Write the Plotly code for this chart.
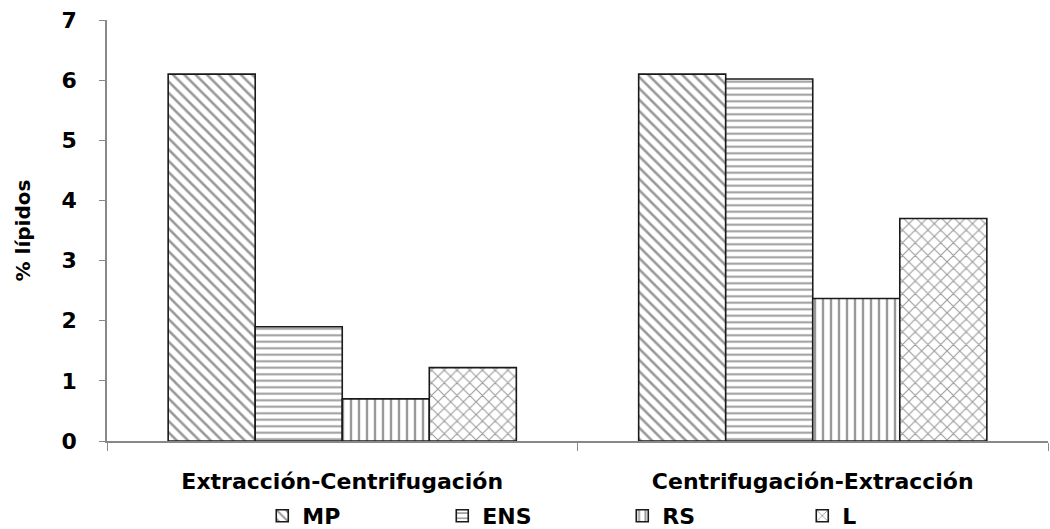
import plotly.graph_objects as go

# Lipid content per fraction for each processing order
categories = ["Extracción-Centrifugación", "Centrifugación-Extracción"]
series_names = ["MP", "ENS", "RS", "L"]
mp_values = [6.1, 6.1]
ens_values = [1.9, 6.02]
rs_values = [0.7, 2.37]
l_values = [1.22, 3.7]
y_ticks = [0, 1, 2, 3, 4, 5, 6, 7]

series_values = [mp_values, ens_values, rs_values, l_values]
patterns = ["\\", "-", "|", "x"]
pattern_sizes = [8, 6.5, 8, 9]
pattern_solidity = [0.32, 0.3, 0.3, 0.22]

font_family = "DejaVu Sans, Verdana, sans-serif"

fig = go.Figure()
for name, vals, shp, sz, sol in zip(series_names, series_values, patterns,
                                     pattern_sizes, pattern_solidity):
    fig.add_trace(go.Bar(
        name=name,
        x=categories,
        y=vals,
        marker=dict(
            color="white",
            line=dict(color="#1a1a1a", width=1.6),
            pattern=dict(shape=shp, fgcolor="#333333", bgcolor="white",
                         size=sz, solidity=sol, fillmode="overlay"),
        ),
    ))

fig.update_layout(
    width=1050, height=529,
    barmode="group",
    bargap=0.26,
    bargroupgap=0,
    plot_bgcolor="white",
    paper_bgcolor="white",
    margin=dict(l=107, r=2, t=20, b=88, autoexpand=False),
    font=dict(family=font_family, size=20, color="black"),
    showlegend=True,
    legend=dict(
        orientation="h",
        xref="paper", x=0.165, xanchor="left",
        yref="paper", y=-0.128, yanchor="top",
        entrywidth=135,
        itemwidth=30,
        font=dict(family=font_family, size=22, color="black", weight="bold"),
    ),
    xaxis=dict(
        showline=True, linecolor="#888888", linewidth=1.5,
        ticks="outside", tickson="boundaries", ticklen=8, tickcolor="#888888",
        tickfont=dict(family=font_family, size=22, weight="bold"),
        ticklabelstandoff=20,
        showgrid=False, automargin=False,
    ),
    yaxis=dict(
        range=[0, 7],
        tickvals=y_ticks,
        showline=True, linecolor="#888888", linewidth=1.5,
        ticks="outside", ticklen=6, tickcolor="#888888",
        tickfont=dict(family=font_family, size=22, weight="bold"),
        ticklabelstandoff=18,
        showgrid=False, zeroline=False, automargin=False,
        title=dict(text="% lípidos", standoff=26,
                   font=dict(family=font_family, size=20, weight="bold")),
    ),
)

fig.write_html("out.html")
